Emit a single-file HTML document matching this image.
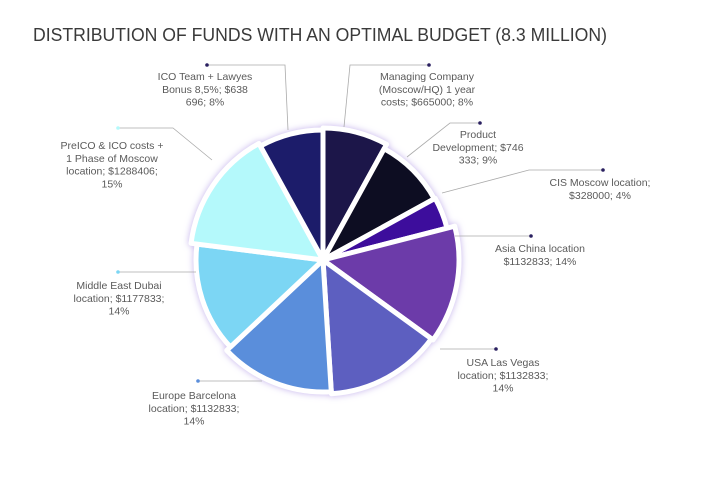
<!DOCTYPE html>
<html><head><meta charset="utf-8"><style>
body{margin:0;background:#fff;width:723px;height:473px;overflow:hidden;font-family:"Liberation Sans",sans-serif}
svg text{font-family:"Liberation Sans",sans-serif}
</style></head><body>
<svg id="chart" width="723" height="473">
<defs>
<filter id="glow" filterUnits="userSpaceOnUse" x="150" y="90" width="350" height="340">
<feGaussianBlur in="SourceAlpha" stdDeviation="3.5" result="blur"/>
<feFlood flood-color="#c4b2ec" result="col"/>
<feComposite operator="in" in="col" in2="blur" result="shadow"/>
<feMerge><feMergeNode in="shadow"/><feMergeNode in="SourceGraphic"/></feMerge>
</filter>
</defs>
<text x="33" y="41" font-size="18" fill="#3a3a3a" textLength="574" lengthAdjust="spacingAndGlyphs">DISTRIBUTION OF FUNDS WITH AN OPTIMAL BUDGET (8.3 MILLION)</text>
<g id="slices" filter="url(#glow)"></g>
<g id="labels"></g>
</svg>
<script>
const categories = ["Managing Company","Product Development","CIS Moscow location","Asia China location","USA Las Vegas","Europe Barcelona","Middle East Dubai","PreICO & ICO costs","ICO Team + Lawyes"];
const percents = [8, 9, 4, 14, 14, 14, 14, 15, 8];
const radii = [132, 127, 128, 136, 134, 132, 127, 133, 130];
const colors = ["#1b1548","#0f0824","#3d0c9c","#6c3aa9","#5d5fc0","#5a8edb","#7bd6f4","#b4f9fb","#1f1b6b"];
const labelTexts = [
 ["Managing Company","(Moscow/HQ) 1 year","costs; $665000; 8%"],
 ["Product","Development; $746","333; 9%"],
 ["CIS Moscow location;","$328000; 4%"],
 ["Asia China location","$1132833; 14%"],
 ["USA Las Vegas","location; $1132833;","14%"],
 ["Europe Barcelona","location; $1132833;","14%"],
 ["Middle East Dubai","location; $1177833;","14%"],
 ["PreICO & ICO costs +","1 Phase of Moscow","location; $1288406;","15%"],
 ["ICO Team + Lawyes","Bonus 8,5%; $638","696; 8%"]
];
const ns="http://www.w3.org/2000/svg";
const cx=323, cy=260;
function angleOf(p){return p/100*2*Math.PI;}
function pt(a,r){return [cx+r*Math.sin(a), cy-r*Math.cos(a)];}
const sg=document.getElementById('slices');
let acc=0;
percents.forEach((p,i)=>{
  const a0=angleOf(acc), a1=angleOf(acc+p); acc+=p;
  const r=radii[i];
  const [x0,y0]=pt(a0,r),[x1,y1]=pt(a1,r);
  const large=(a1-a0)>Math.PI?1:0;
  const path=document.createElementNS(ns,'path');
  path.setAttribute('d',`M${cx},${cy} L${x0},${y0} A${r},${r} 0 ${large} 1 ${x1},${y1} Z`);
  path.setAttribute('fill',colors[i]);
  path.setAttribute('stroke','#fff');
  path.setAttribute('stroke-width','5');
  path.setAttribute('stroke-linejoin','round');
  
  
  sg.appendChild(path);
});
const layout=[
 {tx:427,ty:80,line:[[429,65],[350,65],[344,127]]},
 {tx:478,ty:138,line:[[480,123],[450,123],[407,157]]},
 {tx:600,ty:186,line:[[603,170],[529,170],[442,193]]},
 {tx:540,ty:252,line:[[531,236],[455,236]]},
 {tx:503,ty:366,line:[[496,349],[440,349]]},
 {tx:194,ty:399,line:[[198,381],[262,381]]},
 {tx:119,ty:289,line:[[118,272],[196,272]]},
 {tx:112,ty:149,line:[[118,128],[173,128],[212,160]]},
 {tx:205,ty:80,line:[[207,65],[285,65],[288,130]]}
];
const lg=document.getElementById('labels');
layout.forEach((L,i)=>{
  const g=document.createElementNS(ns,'g');
  
  
  const pl=document.createElementNS(ns,'polyline');
  pl.setAttribute('points',L.line.map(p=>p.join(',')).join(' '));
  pl.setAttribute('fill','none');pl.setAttribute('stroke','#aaa');pl.setAttribute('stroke-width','0.8');
  
  
  g.appendChild(pl);
  const c=document.createElementNS(ns,'circle');
  c.setAttribute('cx',L.line[0][0]);c.setAttribute('cy',L.line[0][1]);c.setAttribute('r','1.8');
  c.setAttribute('fill',i>=5&&i<=7?colors[i]:'#2a2060');
  
  
  g.appendChild(c);
  labelTexts[i].forEach((s,j)=>{
    const t=document.createElementNS(ns,'text');
    t.setAttribute('x',L.tx);t.setAttribute('y',L.ty+j*12.8);
    t.setAttribute('text-anchor','middle');t.setAttribute('font-size','10.5');t.setAttribute('fill','#5a5a5a');
    
    
    t.textContent=s;g.appendChild(t);
  });
  lg.appendChild(g);
});
</script>
</body></html>
